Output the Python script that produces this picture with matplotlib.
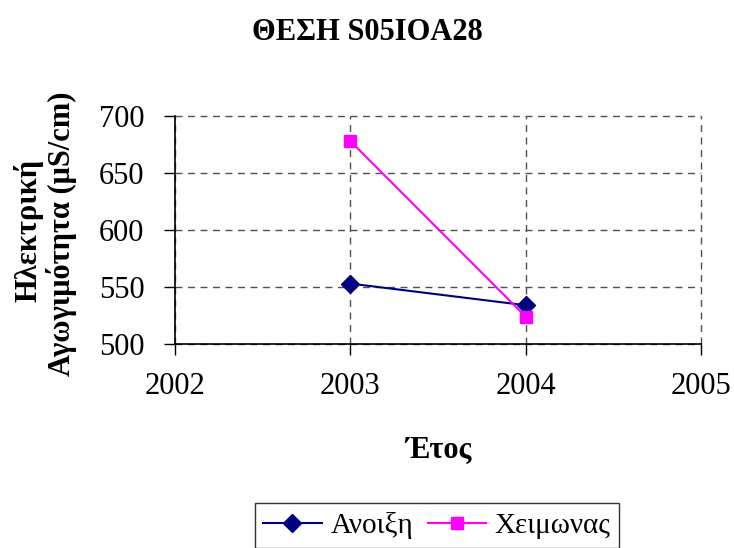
import matplotlib
matplotlib.use("Agg")
import matplotlib.pyplot as plt

# ---- data ----
years = [2003, 2004]
spring = [553, 534]     # Ανοιξη
winter = [678, 524]     # Χειμωνας
x_ticks = [2002, 2003, 2004, 2005]
y_ticks = [500, 550, 600, 650, 700]

plt.rcParams["font.family"] = ["Liberation Serif", "DejaVu Serif"]

fig = plt.figure(figsize=(7.34, 5.48), dpi=100)
ax = fig.add_axes([175 / 734, 1 - 344 / 548, (701 - 175) / 734, (344 - 116) / 548])

ax.plot(years, spring, color="#000080", lw=1.5, marker="D", ms=9,
        label="Ανοιξη")
ax.plot(years, winter, color="#FF00FF", lw=1.5, marker="s", ms=8,
        label="Χειμωνας")

ax.set_xlim(2002, 2005)
ax.set_ylim(500, 700)
ax.set_xticks(x_ticks)
ax.set_yticks(y_ticks)
ax.tick_params(labelsize=22, length=8, width=1, direction="out")
ax.tick_params(axis="x", pad=12)
ax.tick_params(axis="y", pad=14)
ax.grid(True, color="#505050", linestyle=(0, (5, 4)), linewidth=1)
for gl in ax.get_xgridlines() + ax.get_ygridlines():
    gl.set_clip_on(False)
ax.set_axisbelow(True)
for side in ("top", "right"):
    ax.spines[side].set_visible(False)
for side in ("left", "bottom"):
    ax.spines[side].set_linewidth(1.2)
    ax.spines[side].set_zorder(3)

fig.text(0.5, 1 - 32 / 548, "ΘΕΣΗ S05IOA28", ha="center", va="center",
         fontsize=22, fontweight="bold")
fig.text(28 / 734, 1 - 230 / 548, "Ηλεκτρική", rotation=90, ha="center",
         va="center", fontsize=22, fontweight="bold")
fig.text(62 / 734, 1 - 234 / 548, "Αγωγιμότητα (μS/cm)", rotation=90,
         ha="center", va="center", fontsize=22, fontweight="bold")
fig.text(438 / 734, 1 - 450 / 548, "Έτος", ha="center", va="center",
         fontsize=22, fontweight="bold")

leg = fig.legend(loc="upper center", bbox_to_anchor=(437 / 734, 1 - 503 / 548),
                 ncol=2, fontsize=21, frameon=True, fancybox=False,
                 edgecolor="black", handlelength=2.0, handletextpad=0.3,
                 columnspacing=0.5, borderpad=0.3, borderaxespad=0)
leg.get_frame().set_linewidth(1)

fig.savefig("out.png", dpi=100)
